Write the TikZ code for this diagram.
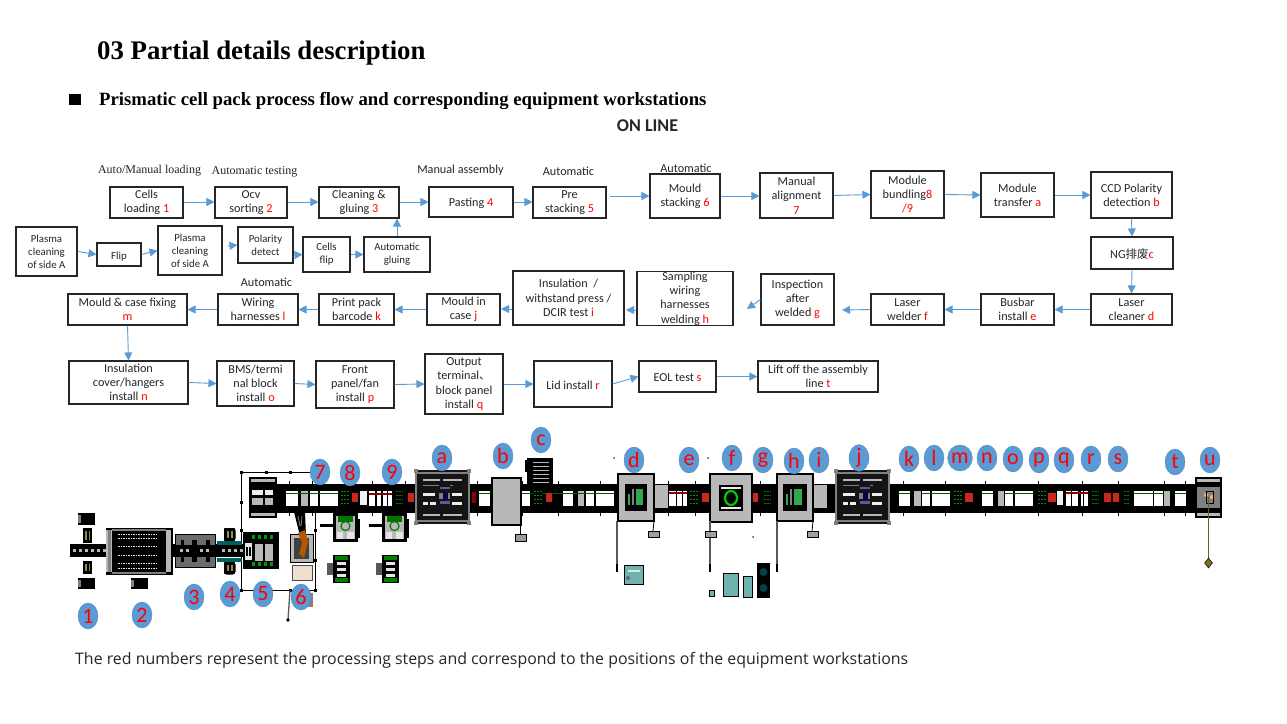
\documentclass[tikz,border=0pt]{standalone}
\usepackage{fontspec}
\setmainfont{Carlito}
\newfontfamily\serifx{Liberation Serif}
\newfontfamily\cjk{Noto Sans CJK SC}
\newfontfamily\lowfont{Open Sans}
\usetikzlibrary{arrows.meta,shapes.geometric}
\definecolor{flow}{HTML}{5B9BD5}
\definecolor{tagblue}{HTML}{5B9BD5}
\definecolor{ink}{HTML}{262626}
\definecolor{teal2}{HTML}{6FB3B0}
\definecolor{gr}{HTML}{B8B8B8}
\definecolor{dred}{HTML}{C8281C}
\definecolor{mgreen}{HTML}{2FA84F}
\newcommand\rd[1]{\textcolor{red}{#1}}
\newcommand\bx[6]{\node[box,minimum width={#4-#2},minimum height={#5-#3}] (#1) at ({(#2+#4)/2},{(#3+#5)/2}) {#6};}
\newcommand\rr[5]{\fill[#5] (#1,#2) rectangle (#3,#4);}
\newcommand\gdots[2]{\fill[black] (#1,490) rectangle (#2,506);
  \foreach \yy in {491.5,495.5,499.5,503.5} \draw[green!55!black,line width=1pt,dash pattern=on 2pt off 1pt] (#1+.5,\yy) -- (#2-.5,\yy);}
\newcommand\gantry[2]{\begin{scope}[shift={(#1,#2)}]
  \rr{0}{0}{55}{54}{black!92}
  \draw[gray,line width=1.3pt] (1,0) -- (1,54) (54,0) -- (54,54) (0,3) -- (55,3) (0,51) -- (55,51);
  \rr{8}{9}{25}{11}{gr} \rr{28}{9}{47}{11}{gr} \rr{8}{44}{25}{46}{gr} \rr{28}{44}{47}{46}{gr}
  \rr{8}{23}{20}{25.5}{white!85!gray} \rr{37}{23}{47}{25.5}{white!85!gray}
  \rr{8}{32}{13}{35}{white!85!gray} \rr{15}{32}{21}{35}{white!85!gray} \rr{37}{32}{47}{35}{white!85!gray}
  \rr{25}{17}{35}{19}{gray!70!blue} \rr{25}{31}{35}{34}{gray!70!blue}
  \rr{24}{23}{28}{29}{gray} \rr{28}{23}{33}{29}{blue!30!black} \rr{33}{23}{35}{29}{gray}
  \rr{8}{15}{24}{16}{gray} \rr{35}{15}{38}{16}{gray}
  \foreach \px/\py in {1/1,54/1,1/53,54/53} \fill[gray] (\px-2,\py-2) rectangle (\px+2,\py+2);
\end{scope}}
\tikzset{
  box/.style={draw=ink,line width=1.1pt,fill=white,inner sep=0pt,align=center,font=\fontsize{12.2}{14.3}\selectfont,text=ink,execute at begin node={\rule{0pt}{11pt}}},
  arr/.style={draw=flow,line width=.9pt,-{Triangle[length=8pt,width=8pt,fill=flow]}},
  note/.style={inner sep=0pt,font=\fontsize{12.2}{14}\selectfont,text=ink},
  snote/.style={inner sep=0pt,font=\serifx\fontsize{12}{14}\selectfont,text=ink},
  tag/.style={ellipse,fill=tagblue,draw=tagblue!85!black,line width=.3pt,inner sep=0pt,minimum width=20pt,minimum height=26pt,text=red,font=\fontsize{22}{22}\selectfont},
  wire/.style={draw=black,line width=1pt},
  pole/.style={draw=gray!70!black,line width=1.3pt}
}
\begin{document}
\begin{tikzpicture}[x=1pt,y=-1pt]
\useasboundingbox (0,0) rectangle (1287,723);
\fill[white] (0,0) rectangle (1287,723);
% headings
\node[anchor=base west,inner sep=0pt,font=\serifx\bfseries\fontsize{26.8}{30}\selectfont,text=black] (title) at (97,59) {03 Partial details description};
\node[rectangle,fill=black,minimum width=12pt,minimum height=11pt,inner sep=0pt] (bullet) at (75,99.5) {};
\node[anchor=base west,inner sep=0pt,font=\serifx\bfseries\fontsize{18.74}{20}\selectfont,text=black] (sub) at (99,105) {Prismatic cell pack process flow and corresponding equipment workstations};
\node[inner sep=0pt,font=\bfseries\fontsize{18}{20}\selectfont,text=ink] (online) at (647.5,126) {ON LINE};
% step notes
\node[snote] (n1) at (149.5,170.5) {Auto/Manual loading};
\node[snote] (n2) at (254.5,171.5) {Automatic testing};
\node[note] (n3) at (460.5,170) {Manual assembly};
\node[note] (n4) at (568.5,171) {Automatic};
\node[note] (n5) at (686,168.5) {Automatic};
\node[note] (n6) at (266.5,282) {Automatic};
% flow boxes
\bx{b1}{110}{187}{183}{218}{Cells\\loading \rd{1}}
\bx{b2}{215}{187}{287}{218}{Ocv\\sorting \rd{2}}
\bx{b3}{319}{187}{399}{218}{Cleaning \&\\gluing \rd{3}}
\bx{b4}{429}{187}{513}{217}{Pasting \rd{4}}
\bx{b5}{533}{187}{606}{218}{Pre\\stacking \rd{5}}
\bx{b6}{650}{174}{720}{218}{Mould\\stacking \rd{6}}
\bx{b7}{760}{173}{833}{218}{Manual\\alignment\\\rd{7}}
\bx{b8}{871}{171}{944}{218}{Module\\bundling\rd{8}\\\rd{/9}}
\bx{ba}{981}{173}{1054}{217}{Module\\transfer \rd{a}}
\bx{bb}{1091}{172}{1172}{218}{CCD Polarity\\detection \rd{b}}
\bx{bc}{1091}{237}{1173}{269}{NG{\cjk\fontsize{11.5}{14}\selectfont 排废}\rd{c}}
\bx{bd}{1091}{294}{1172}{325}{Laser\\cleaner \rd{d}}
\bx{be}{981}{294}{1054}{325}{Busbar\\install \rd{e}}
\bx{bf}{871}{294}{944}{325}{Laser\\welder \rd{f}}
\bx{bg}{761}{274}{834}{325}{Inspection\\after\\welded \rd{g}}
\bx{bh}{637}{272}{733}{325}{Sampling\\wiring\\harnesses\\welding \rd{h}}
\bx{bi}{513}{271}{624}{325}{Insulation~ /\\withstand press /\\DCIR test \rd{i}}
\bx{bj}{427}{294}{500}{325}{Mould in\\case \rd{j}}
\bx{bk}{319}{294}{394}{325}{Print pack\\barcode \rd{k}}
\bx{bl}{218}{294}{298}{325}{Wiring\\harnesses \rd{l}}
\bx{bm}{68}{294}{187}{325}{Mould \& case fixing\\\rd{m}}
\bx{bn}{69}{361}{188}{404}{Insulation\\cover/hangers\\install \rd{n}}
\bx{bo}{217}{361}{294}{406}{BMS/termi\\nal block\\install \rd{o}}
\bx{bp}{316}{361}{394}{408}{Front\\panel/fan\\install \rd{p}}
\bx{bq}{425}{354}{503}{414}{Output\\terminal{\cjk\fontsize{11.5}{14}\selectfont 、}\\block panel\\install \rd{q}}
\bx{br}{534}{361}{612}{407}{Lid install \rd{r}}
\bx{bs}{639}{361}{716}{392}{EOL test \rd{s}}
\bx{bt}{758}{361}{878}{392}{Lift off the assembly\\line \rd{t}}
\begin{scope}[box/.append style={font=\fontsize{10.8}{12.8}\selectfont,execute at begin node={\rule{0pt}{9.5pt}}}]
\bx{p1}{16}{227}{77}{276}{Plasma\\cleaning\\of side A}
\bx{p2}{97}{243}{141}{266}{Flip}
\bx{p3}{158}{226}{222}{275}{Plasma\\cleaning\\of side A}
\bx{p4}{238}{227}{293}{263}{Polarity\\detect}
\bx{p5}{303}{237}{350}{272}{Cells\\flip}
\bx{p6}{364}{237}{430}{272}{Automatic\\gluing}
\end{scope}
% free arrow ends
\coordinate (e56) at (610,196);
\coordinate (e34) at (228,246);
\coordinate (e45) at (295,255);
\coordinate (efg) at (842,310);
\coordinate (egh) at (747,309);
\coordinate (ehi) at (626,310);
\coordinate (eij) at (501,309);
% flow arrows
\draw[arr] (b1.east|-0,202) -- (b2.west|-0,202);
\draw[arr] (b2.east|-0,202) -- (b3.west|-0,202);
\draw[arr] (b3.east|-0,202) -- (b4.west|-0,202);
\draw[arr] (b4.east|-0,202) -- (b5.west|-0,202);
\draw[arr] (e56) -- (b6.west);
\draw[arr] (b6.east) -- (b7.west|-b6.west);
\draw[arr] (b7.east) -- (b8.west);
\draw[arr] (b8.east) -- (ba.west);
\draw[arr] (ba.east) -- (bb.west);
\draw[arr] (bb.south) -- (bc.north);
\draw[arr] (bc.south) -- (bd.north);
\draw[arr] (bd.west) -- (be.east);
\draw[arr] (be.west) -- (bf.east);
\draw[arr] (bf.west) -- (efg);
\draw[arr] (bg.west) -- (egh);
\draw[arr] (bh.west|-ehi) -- (ehi);
\draw[arr] (bi.west|-eij) -- (eij);
\draw[arr] (bj.west) -- (bk.east);
\draw[arr] (bk.west) -- (bl.east);
\draw[arr] (bl.west) -- (bm.east);
\draw[arr] (bm.south) -- (bn.north);
\draw[arr] (bn.east) -- (bo.west);
\draw[arr] (bo.east) -- (bp.west);
\draw[arr] (bp.east) -- (bq.west);
\draw[arr] (bq.east) -- (br.west);
\draw[arr] (br.east) -- (bs.west);
\draw[arr] (bs.east) -- (bt.west);
\draw[arr] (p1.east) -- (p2.west);
\draw[arr] (p2.east) -- (p3.west);
\draw[arr] (e34) -- (p4.west);
\draw[arr] (e45) -- (p5.west);
\draw[arr] (p5.east) -- (p6.west);
\draw[arr] (p6.north) -- (b3.south-|p6.north);
% ---------- equipment plan ----------
% frame wire around 5-7
\draw[wire] (320,472) -- (241,472) -- (241,590) -- (315,590) -- (315,510);
\foreach \px/\py in {241/472,266/472,290/472,241/502,241/530,241/590,290/590,315/590,315/530,315/560}
  \fill[black] (\px-1.5,\py-1.5) rectangle (\px+1.5,\py+1.5);
% left line
\rr{70}{544}{250}{557}{black}
\foreach \px in {73,79,85,91,97,103,110,116,122,128,134,140,146,152,158,164} \rr{\px}{549}{\px+3}{552}{gr}
\rr{78}{513}{95}{525}{black} \rr{78}{578}{95}{589}{black} \rr{131}{578}{148}{589}{black}
\rr{78}{515}{81}{523}{gray} \rr{78}{580}{81}{587}{gray} \rr{131}{580}{134}{587}{gray}
\foreach \ya/\yb in {528/543,561/574}{
  \fill[black] (83,\ya) rectangle (92,\yb);
  \fill[olive!50!gray] (85,\ya+3) rectangle (86.5,\yb-3); \fill[olive!50!gray] (88.5,\ya+3) rectangle (90,\yb-3);}
% station 2
\rr{106}{528}{173}{575}{black}
\foreach \py in {534,538.5,546,555,563,568} {
  \draw[white!80!gray,line width=.9pt,dash pattern=on 1.5pt off 1pt] (118,\py) -- (157,\py);}
\rr{106}{530}{112}{572}{gr} \rr{166}{530}{171}{572}{gr}
\rr{108}{530}{111}{572}{gray}
\rr{112}{529}{166}{530.5}{gray} \rr{112}{572}{166}{573.5}{gray}
% station 3
\rr{175}{534}{215}{567}{gray!85!black}
\draw[black,line width=.8pt] (175,534) rectangle (215,567);
\rr{175}{545}{250}{557}{black}
\foreach \px in {180,186,200,206,222,228,234,240} \rr{\px}{549}{\px+3}{552}{gr}
\rr{181}{540}{184}{545}{black} \rr{192}{540}{197}{545}{black} \rr{206}{540}{210}{545}{black} \rr{181}{557}{184}{562}{black} \rr{192}{557}{197}{562}{black} \rr{206}{557}{210}{562}{black}
% station 4
\rr{217}{541}{242}{545}{teal!75!black} \rr{217}{558}{242}{562}{teal!75!black}
\foreach \ya/\yb in {528/541,562/574}{
  \fill[black,rounded corners=2pt] (224,\ya) rectangle (235,\yb);
  \fill[olive!40!gray] (227,\ya+3) rectangle (228.5,\yb-3); \fill[olive!40!gray] (231,\ya+3) rectangle (232.5,\yb-3);}
% station 5
\rr{243}{532}{279}{569}{black}
\rr{255}{544}{273}{561}{gr} \rr{263}{544}{265}{561}{black}
\foreach \px in {252,258,264,270} {\rr{\px}{535}{\px+3}{539}{green!60!black} \rr{\px}{562}{\px+3}{566}{green!60!black}}
\rr{245}{543}{252}{560}{white!80!gray}
\foreach \px in {246,249} \rr{\px}{547}{\px+1.5}{556}{black}
% top-left block
\rr{249}{477}{277}{518}{black}
\rr{251}{479}{275}{482}{gr} \rr{251}{513}{275}{516}{gr}
\rr{252}{490}{263}{495}{white!85!gray} \rr{265}{490}{273}{495}{white!85!gray} \rr{252}{498}{263}{505}{gr} \rr{265}{498}{273}{505}{gr}
% main band
\rr{277}{484}{1197}{512.5}{black}
\foreach \px in {289,312,345,372,405,477,522,558,600,668,695,760,835,903,945,985,1038,1082,1118,1164,1185} {
  \draw[black,line width=1pt] (\px,481) -- (\px,516);}
% windows
\foreach \a/\b in {286/298,310/318,320/338,369/375,377/381,383/387,388/392,479/490,522/530,563/573,586/594,596/614,669/676,677/682,683/687,899/910,922/930,932/950,982/993,1005/1013,1015/1033,1066/1071,1072/1078,1081/1083,1084/1088,1134/1153,1154/1163,1175/1186}
  \rr{\a}{490.5}{\b}{506}{white};
% gray blocks
\foreach \a/\b in {301/308,578/584,914/921,998/1004,1164/1170} \rr{\a}{490.5}{\b}{506}{gr};
\rr{360}{491}{367}{505}{white!88!gray} \rr{1057}{491}{1063}{505}{white!88!gray}
% green lines
\foreach \a/\b in {286/338,479/490,522/614,899/910,922/950,982/993,1005/1033,1134/1163,1175/1186}
  \rr{\a}{492.5}{\b}{494}{green!35!black};
% red stripes and blocks
\rr{369}{493}{392}{495}{red!55!black} \rr{669}{492}{687}{494}{red!55!black} \rr{1066}{492}{1088}{494}{red!55!black}
\foreach \a/\b in {352/358,408/414,546/552,702/709,753/758,965/973,1048/1056,1104/1111,1113/1119} \rr{\a}{493}{\b}{502}{dred};
\rr{472}{492}{476}{503}{red!55!black}
\gdots{340}{349} \gdots{395}{403} \gdots{533}{542} \gdots{689}{698} \gdots{763}{771} \gdots{953}{962} \gdots{1037}{1046} \gdots{1091}{1099} \gdots{1123}{1130}
% robot 6
\rr{290}{534}{313}{562}{gr}
\draw[black,line width=1pt] (290,534) rectangle (313,562);
\fill[black!75] (294,538) rectangle (309,559);
\fill[black] (294,512) -- (305,512) -- (306,536) -- (300,536) -- cycle;
\draw[gray,line width=.8pt] (298,516) -- (300,526) (302,516) -- (301,526);
\fill[orange!70!black] (298,533) -- (305,530) -- (308,542) -- (304,558) -- (299,554) -- (302,543) -- cycle;
\rr{292}{565}{312}{580}{brown!25!white}
\draw[black!70,line width=1pt] (292,565) rectangle (312,580);
\rr{305}{593}{313}{607}{gray!85!brown}
\draw[pole] (290,590) -- (288,620);
\fill[black] (288,620) circle (1.8pt);
% rotary stations 8, 9 and boxes
\foreach \xo in {333,382} {
  \rr{\xo}{513}{\xo+25}{542}{black}
  \rr{\xo+3}{516}{\xo+22}{539}{gr}
  \rr{\xo+5}{516}{\xo+20}{522}{green!45!black}
  \rr{\xo+4}{532}{\xo+10}{539}{white!80!gray} \rr{\xo+14}{532}{\xo+21}{539}{white!80!gray}
  \draw[green!50!black,line width=1.2pt] (\xo+12.5,526) circle (4.5pt);
  \rr{\xo-13}{524}{\xo}{527}{black}
  \rr{\xo+25}{519}{\xo+27}{538}{black}
  \rr{\xo}{555}{\xo+17}{583}{black}
  \rr{\xo+4}{562}{\xo+13}{565}{white!80!gray} \rr{\xo+4}{568}{\xo+13}{571}{white!80!gray} \rr{\xo+4}{574}{\xo+13}{577}{white!80!gray}
  \rr{\xo+2}{556}{\xo+15}{560}{green!50!black} \rr{\xo+2}{578}{\xo+15}{582}{green!50!black}
  \rr{\xo-6}{563}{\xo}{575}{gray!70!black}
}
% gantries a, j
\gantry{415}{470}
\gantry{835}{470}
% machine b
\rr{492}{478}{521}{525}{gr}
\draw[black,line width=1.5pt] (492,478) rectangle (521,525);
\rr{515}{534}{526}{541}{gray!80} \draw[black,line width=.7pt] (515,534) rectangle (526,541);
\draw[black,line width=.8pt] (520,525) -- (520,534);
% machine c
\rr{527}{458}{553}{485}{black}
\foreach \py in {462,466,470,474,478,482} \draw[gr,line width=.8pt] (533,\py) -- (549,\py);
\rr{525}{460}{528}{472}{black}
% gray bars
\rr{655}{485}{668}{508}{gr} \rr{813}{485}{827}{508}{gr}
% welding cells
\begin{scope}[shift={(618,0)}]
  \rr{0}{474}{36}{521}{gr} \draw[black,line width=1.4pt] (0,474) rectangle (36,521);
  \rr{7}{484}{29}{511}{black} \rr{18}{489}{25}{505}{mgreen} \rr{10}{494}{12}{505}{mgreen} \rr{14}{489}{16}{505}{gray}
\end{scope}
\begin{scope}[shift={(710,0)}]
  \rr{0}{474}{42}{522}{gr} \draw[black,line width=1.4pt] (0,474) rectangle (42,522);
  \rr{9}{485}{33}{511}{black} \rr{11}{487}{31}{489}{white!85!gray} \rr{11}{507}{31}{509}{white!85!gray}
  \draw[green!80!black,line width=2.2pt] (21,498) ellipse (6pt and 7pt);
\end{scope}
\begin{scope}[shift={(777,0)}]
  \rr{0}{474}{36}{521}{gr} \draw[black,line width=1.4pt] (0,474) rectangle (36,521);
  \rr{6}{484}{30}{511}{black} \rr{17}{489}{25}{505}{mgreen} \rr{9}{494}{11}{505}{mgreen} \rr{13}{489}{15}{505}{gray}
\end{scope}
% poles and small pieces
\foreach \px in {617,710,777} {\draw[pole] (\px,521) -- (\px,571); \fill[black] (\px-1,564) rectangle (\px+1,572);}
\foreach \xa/\xb in {648/659,705/716,807/818} {\rr{\xa}{531}{\xb}{537}{gray!75} \draw[black,line width=.7pt] (\xa,531) rectangle (\xb,537);}
\foreach \px/\xa in {654/653,813/812} \draw[black,line width=.8pt] (\px,521) -- (\xa,531);
\rr{624}{565}{643}{584}{teal2} \draw[black,line width=.9pt] (624,565) rectangle (643,584);
\rr{628}{570}{640}{572}{white!70!teal2} \fill[black!60] (628,578) circle (2pt);
\rr{723}{573}{738}{596}{teal2} \draw[black,line width=.9pt] (723,573) rectangle (738,596);
\rr{743}{576}{752}{597}{teal2} \draw[black,line width=.7pt] (743,576) rectangle (752,597);
\rr{757}{563}{770}{598}{black} \fill[teal!55!black] (763.5,572) circle (4pt); \fill[teal!55!black] (763.5,588) circle (4pt);
\rr{709}{590}{714}{596}{teal2} \draw[black,line width=.5pt] (709,590) rectangle (714,596);
\foreach \px/\py in {614/458,708/458,753/537} \fill[black!70] (\px,\py) circle (1pt);
% end station u
\rr{1195}{477}{1222}{518}{black}
\rr{1197}{479}{1220}{482}{gr} \rr{1197}{513}{1220}{516}{gr}
\rr{1197}{487}{1220}{508}{gray}
\fill[orange!60!white] (1206,495) circle (2pt); \fill[orange!60!white] (1212,497) circle (2pt);
\draw[black,line width=.8pt] (1206,491) rectangle (1213,503);
\draw[olive!60!black,line width=1.3pt] (1208.5,497) -- (1208.5,560);
\node[diamond,fill=olive!80!black,draw=black,line width=.5pt,inner sep=0pt,minimum width=8pt,minimum height=10pt] (umark) at (1208.5,563) {};
% station tags
\foreach \t/\px/\py in {1/88/616,2/142/615,3/194/597,4/230/594,5/263/594,6/301/597,7/320/472,8/350/473,9/392/472,a/442/458,b/503/456,c/541/440,d/634/460,e/689/460,f/732/458,g/763/460,h/794/461,i/819/460,j/859/458,k/909/459,l/934/458,m/960/458,n/987/458,o/1013/459,p/1039/460,q/1064/460,r/1091/459,s/1118/459,t/1175/462,u/1210/460}
  \node[tag] (tag\t) at (\px,\py) {\t};
% caption
\node[anchor=base west,inner sep=0pt,font=\lowfont\fontsize{15.9}{18}\selectfont,text=ink] (caption) at (75,664) {The red numbers represent the processing steps and correspond to the positions of the equipment workstations};
\end{tikzpicture}
\end{document}
